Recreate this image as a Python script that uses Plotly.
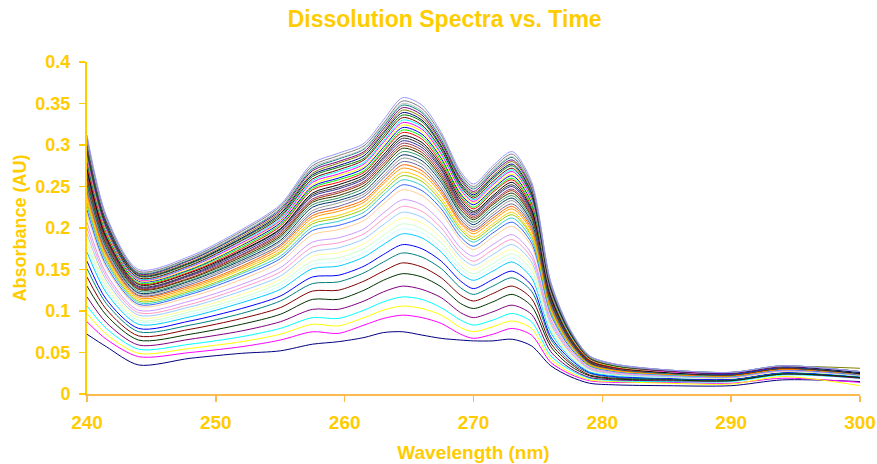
import plotly.graph_objects as go

# Wavelength sampling points (nm)
WAVELENGTH_NM = [240, 241.5, 244, 248, 252, 255, 257.5, 259.5, 261.5, 263, 264.5, 266, 267.5,
                 269, 270, 271.5, 273, 274.5, 276, 277.5, 279, 281, 285, 290, 294, 300]

X_TICKS = [240, 250, 260, 270, 280, 290, 300]

# Absorbance of each time point, in milli-absorbance units (mAU)
S01 = [72, 57, 35, 43, 49, 52, 60, 63, 68, 74, 75, 71, 67, 65, 64, 64, 66, 58, 34, 21, 13, 11, 10, 10, 17, 15]
S02 = [87, 66, 45, 50, 57, 65, 75, 73, 83, 91, 95, 92, 85, 72, 67, 72, 79, 71, 38, 24, 16, 14, 14, 13, 19, 14]
S03 = [97, 72, 49, 55, 63, 72, 84, 82, 92, 101, 106, 103, 95, 80, 75, 81, 88, 79, 42, 26, 17, 15, 13, 12, 21, 10]
S04 = [106, 79, 54, 60, 69, 79, 92, 91, 101, 111, 117, 114, 104, 89, 83, 89, 97, 87, 46, 29, 19, 16, 15, 15, 23, 19]
S05 = [117, 86, 59, 66, 76, 87, 102, 102, 112, 123, 130, 126, 116, 98, 92, 99, 107, 96, 51, 31, 20, 17, 16, 16, 24, 19]
S06 = [141, 102, 70, 78, 91, 104, 124, 125, 136, 148, 158, 153, 140, 119, 112, 121, 130, 115, 61, 37, 23, 19, 18, 17, 25, 20]
S07 = [151, 109, 75, 83, 97, 112, 133, 135, 146, 159, 170, 165, 151, 128, 120, 130, 140, 124, 66, 39, 25, 20, 18, 17, 25, 21]
S08 = [160, 114, 79, 88, 103, 118, 141, 143, 154, 168, 180, 175, 160, 136, 127, 138, 148, 131, 69, 42, 26, 21, 19, 18, 26, 21]
S09 = [171, 122, 84, 93, 110, 126, 151, 154, 165, 180, 193, 188, 171, 145, 137, 148, 159, 140, 74, 44, 27, 22, 20, 19, 27, 21]
S10 = [176, 125, 87, 96, 113, 130, 156, 159, 170, 186, 199, 194, 176, 150, 141, 153, 164, 144, 77, 45, 28, 23, 20, 19, 27, 22]
S11 = [182, 129, 89, 99, 116, 134, 160, 164, 175, 191, 205, 199, 182, 154, 145, 157, 169, 149, 79, 47, 29, 23, 20, 19, 27, 22]
S12 = [188, 133, 92, 102, 120, 138, 166, 170, 181, 198, 212, 206, 188, 160, 150, 163, 174, 154, 81, 48, 29, 24, 21, 19, 27, 22]
S13 = [193, 137, 95, 105, 124, 142, 171, 176, 187, 204, 219, 213, 194, 165, 155, 168, 180, 159, 84, 50, 30, 24, 21, 20, 28, 22]
S14 = [200, 141, 98, 108, 128, 147, 177, 182, 193, 211, 226, 220, 200, 170, 160, 174, 186, 164, 87, 51, 31, 25, 22, 20, 28, 23]
S15 = [207, 145, 101, 112, 132, 152, 183, 188, 199, 218, 234, 228, 207, 176, 166, 180, 192, 169, 90, 53, 32, 26, 22, 20, 28, 23]
S16 = [217, 152, 106, 117, 138, 159, 192, 198, 209, 229, 246, 239, 218, 185, 174, 189, 202, 178, 94, 55, 33, 27, 23, 21, 29, 23]
S17 = [222, 155, 108, 120, 142, 163, 197, 203, 214, 234, 252, 245, 223, 189, 178, 194, 207, 182, 96, 56, 34, 27, 23, 21, 29, 23]
S18 = [227, 159, 110, 122, 145, 166, 201, 208, 219, 240, 258, 251, 228, 194, 183, 198, 212, 186, 98, 58, 35, 28, 23, 21, 30, 24]
S19 = [231, 162, 112, 124, 147, 170, 205, 212, 223, 244, 263, 256, 232, 198, 186, 202, 216, 190, 100, 59, 35, 28, 24, 22, 30, 24]
S20 = [235, 164, 114, 126, 150, 172, 208, 215, 227, 248, 267, 260, 236, 201, 189, 205, 219, 192, 102, 59, 36, 28, 24, 22, 30, 24]
S21 = [239, 167, 116, 128, 152, 175, 212, 220, 231, 253, 272, 265, 241, 205, 193, 209, 223, 196, 104, 61, 36, 29, 24, 22, 30, 24]
S22 = [243, 169, 118, 130, 154, 178, 215, 223, 234, 256, 276, 269, 244, 207, 196, 212, 226, 199, 105, 61, 37, 29, 24, 22, 30, 24]
S23 = [246, 171, 119, 132, 157, 180, 218, 226, 238, 260, 280, 273, 247, 210, 198, 215, 229, 202, 107, 62, 37, 30, 25, 23, 31, 24]
S24 = [249, 173, 121, 134, 159, 183, 221, 230, 241, 263, 284, 277, 251, 213, 201, 218, 233, 204, 108, 63, 38, 30, 25, 23, 31, 25]
S25 = [253, 176, 122, 136, 161, 185, 225, 233, 244, 267, 288, 281, 255, 217, 204, 222, 236, 207, 110, 64, 38, 30, 25, 23, 31, 25]
S26 = [256, 178, 124, 137, 163, 188, 228, 236, 248, 271, 292, 285, 258, 219, 207, 225, 239, 210, 111, 65, 39, 31, 25, 23, 31, 25]
S27 = [130, 95, 65, 72, 84, 96, 114, 114, 125, 137, 145, 141, 129, 109, 103, 111, 120, 106, 57, 34, 22, 18, 17, 16, 24, 20]
S28 = [260, 180, 126, 139, 165, 190, 231, 239, 251, 274, 296, 288, 261, 222, 210, 228, 242, 213, 112, 65, 39, 31, 26, 23, 31, 25]
S29 = [262, 182, 127, 140, 167, 192, 233, 242, 254, 277, 299, 291, 264, 225, 212, 230, 245, 215, 114, 66, 39, 31, 26, 23, 31, 25]
S30 = [265, 184, 128, 142, 168, 194, 235, 244, 256, 280, 302, 294, 267, 227, 214, 232, 247, 217, 115, 67, 40, 31, 26, 24, 32, 25]
S31 = [268, 186, 129, 143, 170, 196, 238, 247, 259, 283, 305, 297, 270, 229, 216, 235, 250, 219, 116, 67, 40, 32, 26, 24, 32, 25]
S32 = [270, 187, 130, 144, 172, 198, 240, 249, 261, 285, 308, 300, 272, 231, 218, 237, 252, 221, 117, 68, 40, 32, 26, 24, 32, 25]
S33 = [272, 189, 132, 146, 173, 199, 242, 252, 264, 288, 311, 303, 275, 234, 220, 239, 255, 223, 118, 69, 41, 32, 26, 24, 32, 25]
S35 = [276, 191, 133, 147, 175, 202, 246, 255, 267, 292, 315, 307, 278, 237, 223, 243, 258, 226, 120, 69, 41, 32, 27, 24, 32, 26]
S36 = [279, 193, 134, 149, 177, 204, 248, 258, 269, 294, 318, 310, 281, 239, 225, 245, 260, 228, 121, 70, 42, 33, 27, 24, 32, 26]
S37 = [281, 195, 136, 150, 179, 206, 250, 260, 272, 297, 321, 313, 284, 241, 228, 247, 263, 231, 122, 71, 42, 33, 27, 24, 32, 26]
S38 = [284, 196, 137, 151, 180, 208, 252, 263, 274, 300, 324, 316, 286, 243, 230, 249, 265, 233, 123, 71, 42, 33, 27, 25, 33, 26]
S39 = [286, 198, 138, 153, 182, 209, 255, 265, 277, 303, 327, 319, 289, 246, 232, 252, 268, 235, 124, 72, 43, 34, 27, 25, 33, 26]
S40 = [289, 200, 139, 154, 184, 211, 257, 268, 279, 305, 330, 322, 291, 248, 234, 254, 270, 237, 125, 72, 43, 34, 28, 25, 33, 26]
S41 = [291, 201, 140, 155, 185, 213, 259, 270, 282, 308, 333, 324, 294, 250, 236, 256, 272, 239, 126, 73, 43, 34, 28, 25, 33, 26]
S42 = [294, 203, 142, 157, 187, 215, 262, 273, 284, 311, 336, 328, 297, 252, 238, 259, 275, 241, 127, 74, 44, 34, 28, 25, 33, 26]
S43 = [297, 205, 143, 158, 188, 217, 264, 275, 287, 314, 339, 330, 299, 254, 240, 261, 277, 243, 128, 74, 44, 35, 28, 25, 33, 26]
S44 = [299, 207, 144, 159, 190, 219, 266, 278, 290, 316, 342, 333, 302, 257, 242, 263, 280, 246, 130, 75, 44, 35, 28, 26, 33, 31]
S45 = [302, 208, 145, 161, 192, 221, 269, 280, 292, 319, 345, 336, 304, 259, 244, 266, 282, 248, 131, 76, 45, 35, 28, 25, 33, 27]
S46 = [304, 210, 146, 162, 193, 223, 271, 283, 295, 322, 348, 339, 307, 261, 247, 268, 285, 250, 132, 76, 45, 35, 29, 26, 34, 27]
S47 = [306, 211, 147, 163, 194, 224, 273, 284, 296, 324, 350, 341, 309, 263, 248, 270, 286, 251, 132, 77, 45, 35, 29, 26, 34, 27]
S48 = [309, 213, 148, 164, 196, 226, 275, 287, 299, 326, 353, 344, 312, 265, 250, 272, 289, 253, 134, 77, 46, 36, 29, 26, 34, 27]
S49 = [312, 215, 150, 166, 198, 228, 278, 290, 302, 330, 357, 348, 315, 268, 253, 275, 292, 256, 135, 78, 46, 36, 29, 26, 34, 27]

SERIES_VALUES = [S01, S02, S03, S04, S05, S06, S07, S08, S09, S10, S11, S12, S13, S14, S15, S16,
                 S17, S18, S19, S20, S21, S22, S23, S24, S25, S26, S27, S28, S29, S30, S31, S32,
                 S33, S35, S36, S37, S38, S39, S40, S41, S42, S43, S44, S45, S46, S47, S48, S49]

SERIES_COLORS = ["#000080", "#FF00FF", "#FFFF00", "#00FFFF", "#800080", "#800000", "#008080", "#0000FF",
                 "#00CCFF", "#CCFFFF", "#CCFFCC", "#FFFF99", "#99CCFF", "#FF99CC", "#CC99FF", "#FFCC99",
                 "#3366FF", "#33CCCC", "#99CC00", "#FFCC00", "#FF9900", "#FF6600", "#666699", "#969696",
                 "#003366", "#339966", "#003300", "#333300", "#993300", "#993366", "#333399", "#333333",
                 "#000000", "#FF0000", "#00FF00", "#0000FF", "#FFFF00", "#FF00FF", "#00FFFF", "#800000",
                 "#008000", "#000080", "#808000", "#800080", "#008080", "#C0C0C0", "#808080", "#9999FF"]

GOLD = "#FFCC00"
AXIS_X_COLOR = "#FDBA4E"
FONT = "Arial, 'Liberation Sans', sans-serif"

fig = go.Figure()
for vals, col in zip(SERIES_VALUES, SERIES_COLORS):
    fig.add_trace(go.Scatter(
        x=WAVELENGTH_NM,
        y=[v / 1000 for v in vals],
        mode="lines",
        line=dict(color=col, width=1, shape="spline", smoothing=0.8),
        hoverinfo="skip",
        showlegend=False,
    ))

fig.update_layout(
    width=877, height=464,
    margin=dict(l=87, r=17, t=62, b=70, autoexpand=False),
    paper_bgcolor="white", plot_bgcolor="white",
    font=dict(family=FONT, color=GOLD),
    showlegend=False,
    title=dict(
        text="Dissolution Spectra vs. Time",
        font=dict(family=FONT, size=23, color=GOLD, weight="bold"),
        x=0.507, xanchor="center", xref="container",
        y=0.96, yanchor="middle", yref="container",
    ),
)

fig.update_xaxes(
    range=[240, 300], tickvals=X_TICKS, automargin=False,
    ticks="outside", ticklen=6, tickwidth=1.5, tickcolor=AXIS_X_COLOR,
    showline=True, linecolor=AXIS_X_COLOR, linewidth=2,
    showgrid=False, zeroline=False,
    tickfont=dict(family=FONT, size=19, color=GOLD, weight="bold"),
    ticklabelstandoff=4,
    title=dict(text="Wavelength (nm)", font=dict(family=FONT, size=19, color=GOLD, weight="bold"), standoff=14),
)
fig.update_yaxes(
    range=[0, 0.4], dtick=0.05, tick0=0, automargin=False,
    ticks="outside", ticklen=6, tickwidth=1.5, tickcolor=GOLD,
    showline=True, linecolor=GOLD, linewidth=2,
    showgrid=False, zeroline=False,
    tickfont=dict(family=FONT, size=18, color=GOLD, weight="bold"),
    ticklabelstandoff=5,
    title=dict(text="Absorbance (AU)", font=dict(family=FONT, size=18, color=GOLD, weight="bold"), standoff=4),
)

fig.write_html(
    "out.html",
    config={"displayModeBar": False, "staticPlot": True},
    post_script="document.body.style.margin='0';document.body.style.overflow='hidden';",
)
